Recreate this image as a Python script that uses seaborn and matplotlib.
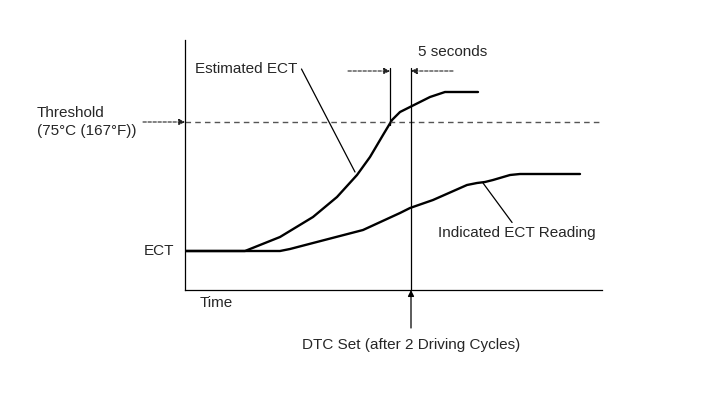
import matplotlib.pyplot as plt
import seaborn as sns
import pandas as pd

# schematic units: time along x, temperature along y (arbitrary)
est_time = [0, 60, 65, 95, 128, 152, 172, 185, 198, 207, 215, 225, 245, 260, 293]
est_temp = [39, 39, 41, 53, 73, 93, 115, 133, 155, 170, 178, 183, 193, 198, 198]

ind_time = [0, 95, 105, 128, 178, 215, 225, 248, 282, 292, 300, 308, 325, 335, 395]
ind_temp = [39, 39, 41, 47, 60, 77, 82, 90, 105, 107, 108, 110, 115, 116, 116]

threshold = 168
ect_level = 39
window_start = 205
dtc_time = 226

df_est = pd.DataFrame({'Time': est_time, 'Temp': est_temp})
df_ind = pd.DataFrame({'Time': ind_time, 'Temp': ind_temp})

sns.set_style("white")
plt.rcParams['font.family'] = ['Liberation Sans', 'DejaVu Sans']

W, H = 722, 397
fig = plt.figure(figsize=(W / 100, H / 100), dpi=100)
ax = fig.add_axes([185 / W, (H - 290) / H, (602 - 185) / W, (290 - 40) / H])
ax.set_xlim(0, 417)
ax.set_ylim(0, 250)

sns.lineplot(data=df_est, x='Time', y='Temp', ax=ax, color='black', lw=1.7)
sns.lineplot(data=df_ind, x='Time', y='Temp', ax=ax, color='black', lw=1.7)

ax.axhline(threshold, color='#555555', lw=1, ls=(0, (4, 3)))

# vertical markers
ax.plot([window_start, window_start], [threshold - 3, 222], color='black', lw=0.9)
ax.plot([dtc_time, dtc_time], [0, 222], color='black', lw=0.9, clip_on=False)

arrow = dict(arrowstyle='-|>', color='#222222', lw=0.8, ls=(0, (3, 1.5)), mutation_scale=9,
             shrinkA=0, shrinkB=0)
ax.annotate('', xy=(window_start, 219), xytext=(163, 219), arrowprops=arrow, annotation_clip=False)
ax.annotate('', xy=(dtc_time, 219), xytext=(268, 219), arrowprops=arrow, annotation_clip=False)
ax.annotate('', xy=(0, threshold), xytext=(-42, threshold), arrowprops=arrow, annotation_clip=False)
ax.annotate('', xy=(dtc_time, 0), xytext=(dtc_time, -38),
            arrowprops=dict(arrowstyle='-|>', color='black', lw=0.9, mutation_scale=9,
                            shrinkA=0, shrinkB=0), annotation_clip=False)

fs = 11
ax.text(233, 238, '5 seconds', fontsize=fs, ha='left', va='center')
ax.text(-148, 168, 'Threshold\n(75°C (167°F))', fontsize=fs, ha='left', va='center', linespacing=1.3)
ax.text(-41, ect_level, 'ECT', fontsize=fs, ha='left', va='center')
ax.text(15, -13, 'Time', fontsize=fs, ha='left', va='center')
ax.text(dtc_time, -55, 'DTC Set (after 2 Driving Cycles)', fontsize=fs, ha='center', va='center')

ax.annotate('Estimated ECT', xy=(170, 118), xytext=(10, 221), fontsize=fs, ha='left', va='center',
            arrowprops=dict(arrowstyle='-', color='black', lw=0.9, shrinkA=0, shrinkB=0,
                            relpos=(1.04, 0.5)))
ax.annotate('Indicated ECT Reading', xy=(298, 107), xytext=(253, 57), fontsize=fs, ha='left', va='center',
            arrowprops=dict(arrowstyle='-', color='black', lw=0.9, shrinkA=0, shrinkB=0,
                            relpos=(0.47, 1.25)))

ax.set_xlabel('')
ax.set_ylabel('')
ax.set_xticks([])
ax.set_yticks([])
sns.despine(ax=ax)
for s in ['left', 'bottom']:
    ax.spines[s].set_color('black')
    ax.spines[s].set_linewidth(0.9)

fig.savefig('out.png', dpi=100)
